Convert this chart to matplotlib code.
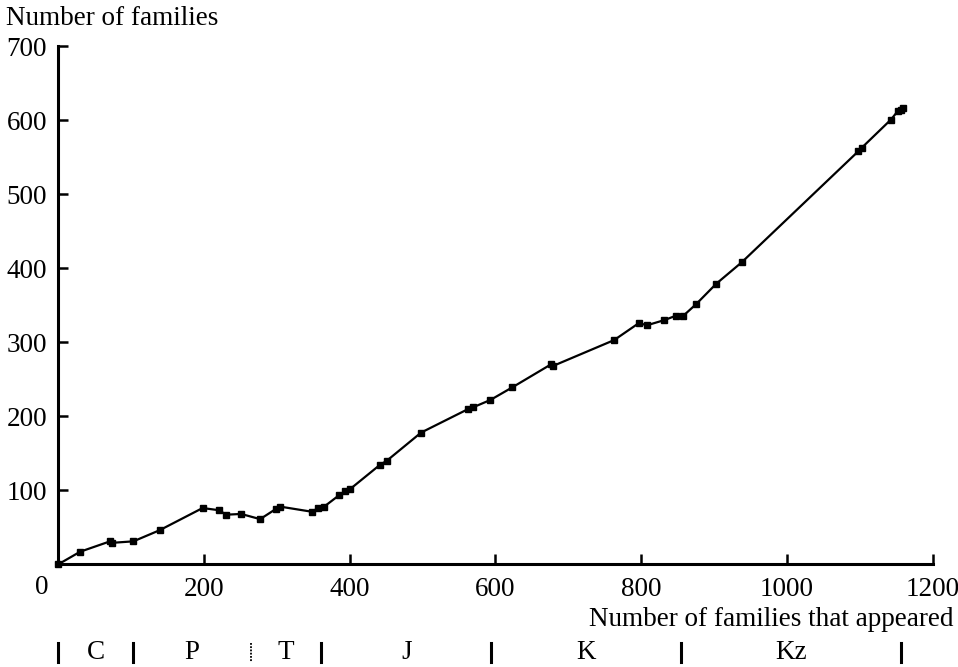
import matplotlib.pyplot as plt

# cumulative number of families that appeared vs. number of families
appeared = [0, 30, 71, 74, 103, 139, 198, 221, 230, 251, 277, 299, 304,
            348, 357, 365, 385, 394, 401, 441, 451, 498, 563, 569, 593,
            623, 676, 679, 763, 797, 808, 832, 848, 857, 876, 903, 938,
            1098, 1103, 1143, 1152, 1157, 1159]
families = [0, 17, 31, 29, 31, 46, 76, 73, 67, 68, 61, 75, 78,
            71, 76, 78, 93, 99, 102, 134, 140, 178, 210, 212, 222,
            239, 270, 268, 303, 326, 323, 330, 336, 335, 352, 379, 408,
            558, 563, 601, 612, 614, 617]

# geological periods along the x axis
period_names = ['C', 'P', 'T', 'J', 'K', 'Kz']
period_bounds = [0, 102, 264, 361, 594, 855, 1157]
dotted_bounds = [264]

xticks = [200, 400, 600, 800, 1000, 1200]
yticks = [100, 200, 300, 400, 500, 600, 700]

plt.rcParams['font.family'] = ['Liberation Serif', 'DejaVu Serif']
fs = 19.5

fig = plt.figure(figsize=(9.58, 6.67), dpi=100)
ax = fig.add_axes([0.0609, 0.154, 0.9125, 0.7766])

ax.plot(appeared, families, color='black', lw=1.6, marker='s', ms=4.5,
        clip_on=False, zorder=3)

ax.set_xlim(0, 1200)
ax.set_ylim(0, 700)
ax.set_xticks(xticks)
ax.set_yticks(yticks)
ax.spines['top'].set_visible(False)
ax.spines['right'].set_visible(False)
for s in ['left', 'bottom']:
    ax.spines[s].set_linewidth(2.2)
ax.tick_params(direction='in', length=7.5, width=1.8, labelsize=fs)
ax.tick_params(axis='x', pad=9)
ax.tick_params(axis='y', pad=8)

# shared zero at the corner
ax.annotate('0', xy=(0, 0), xytext=(-12, -17), textcoords='offset points',
            ha='center', va='center', fontsize=fs, annotation_clip=False)

fig.text(0.995, 0.0705, 'Number of families that appeared',
         ha='right', va='center', fontsize=fs)
fig.text(0.006, 0.973, 'Number of families', ha='left', va='center',
         fontsize=fs)

# period scale under the axis
trans = ax.get_xaxis_transform()
for b in period_bounds:
    if b in dotted_bounds:
        ax.plot([b, b], [-0.152, -0.189], transform=trans, color='black',
                lw=1.3, dashes=(1, 0.8), clip_on=False)
    else:
        ax.plot([b, b], [-0.152, -0.189], transform=trans, color='black',
                lw=2.2, clip_on=False)
for i, name in enumerate(period_names):
    mid = (period_bounds[i] + period_bounds[i + 1]) / 2
    ax.text(mid, -0.171, name, transform=trans, ha='center', va='center',
            fontsize=fs)

fig.savefig('out.png', dpi=100)
